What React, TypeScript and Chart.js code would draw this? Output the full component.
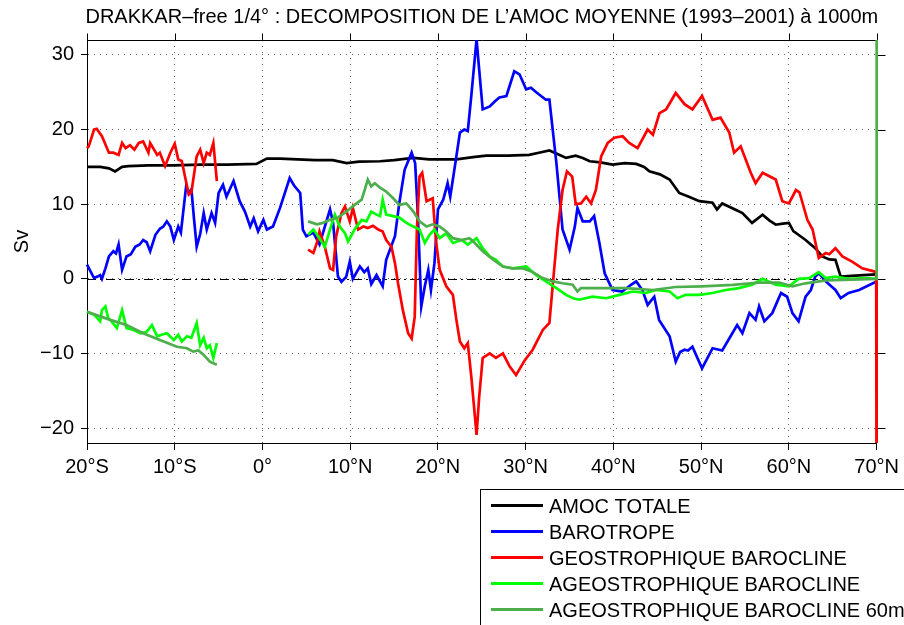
import React, { useEffect, useRef } from "react";
import { Chart, registerables } from "chart.js";
Chart.register(...registerables);

const TITLE = "DRAKKAR\u2013free 1/4\u00b0 : DECOMPOSITION DE L\u2019AMOC MOYENNE (1993\u20132001) \u00e0 1000m";
const Y_LABEL = "Sv";
const X_TICKS = [-20, -10, 0, 10, 20, 30, 40, 50, 60, 70];
const Y_TICKS = [-20, -10, 0, 10, 20, 30];
const X_RANGE = [-20, 70];
const Y_RANGE = [-22, 32];
const LABELS = [
  "AMOC TOTALE",
  "BAROTROPE",
  "GEOSTROPHIQUE BAROCLINE",
  "AGEOSTROPHIQUE BAROCLINE",
  "AGEOSTROPHIQUE BAROCLINE 60m",
];
const COLORS = ["#000000", "#0000ff", "#ff0000", "#00ff00", "#4caf4c"];

// [latitude, Sv]
const AMOC: [number, number][] = [
  [-20, 15.0], [-18.5, 15.0], [-17.5, 14.8], [-16.8, 14.4], [-16, 15.0], [-15.3, 15.1], [-13, 15.2],
  [-10.2, 15.2], [-7, 15.3], [-4, 15.3], [-0.7, 15.4], [0.5, 16.1], [2, 16.1], [4, 16.0], [6, 15.9],
  [8, 15.9], [9.6, 15.5], [11, 15.7], [13.4, 15.75], [15, 15.9], [17.2, 16.2], [19, 16.0], [22.1, 16.0],
  [24, 16.3], [25.5, 16.5], [28, 16.5], [30.4, 16.6], [31.5, 16.9], [32.7, 17.2], [33.5, 16.8],
  [34.6, 16.2], [35.7, 16.5], [36.5, 16.2], [37.3, 15.75], [38.5, 15.6], [39.9, 15.3], [41.3, 15.5],
  [42.6, 15.4], [43.5, 15.0], [44.1, 14.4], [45.3, 14.0], [46.4, 13.3], [47.5, 11.5], [48.6, 11.0],
  [49.8, 10.4], [50.5, 10.3], [51.3, 10.2], [51.8, 9.3], [52.4, 10.1], [53.5, 9.5], [54.7, 8.8],
  [55.8, 7.5], [57, 8.6], [57.8, 7.8], [58.5, 7.25], [59.3, 7.4], [60, 7.5], [60.5, 6.4], [61.2, 5.8],
  [61.9, 5.2], [63, 4.1], [63.8, 3.0], [64.6, 2.6], [65.3, 2.55], [65.9, 0.3], [68, 0.45], [70, 0.6],
];

const BARO: [number, number][] = [
  [-20, 1.9], [-19.2, 0.1], [-18.8, 0.3], [-18.5, 0.5], [-18.3, 0.0], [-17.9, 1.4], [-17.5, 3.0],
  [-17.0, 3.7], [-16.7, 3.4], [-16.4, 4.6], [-16.0, 1.2], [-15.5, 3.0], [-15.0, 3.3], [-14.5, 4.3],
  [-14.0, 4.6], [-13.6, 5.2], [-13.2, 4.9], [-12.8, 3.7], [-12.2, 5.9], [-11.7, 6.7], [-11.3, 7.0],
  [-10.9, 7.7], [-10.5, 7.0], [-10.1, 5.2], [-9.6, 7.0], [-9.3, 6.2], [-9.0, 9.3], [-8.7, 12.4],
  [-8.4, 11.5], [-8.1, 12.0], [-7.8, 8.0], [-7.5, 4.3], [-7.1, 6.0], [-6.7, 8.8], [-6.35, 6.6],
  [-5.8, 8.8], [-5.4, 7.5], [-5.0, 11.5], [-4.5, 12.6], [-4.1, 11.0], [-3.3, 13.1], [-2.6, 10.4],
  [-2.0, 9.0], [-1.4, 7.0], [-1.0, 8.1], [-0.5, 6.35], [0.1, 7.9], [0.5, 6.6], [1.2, 7.0], [2.0, 9.5],
  [3.1, 13.5], [3.6, 12.5], [4.3, 11.5], [4.6, 6.6], [5.0, 5.7], [5.8, 6.2], [6.5, 4.6], [7.7, 9.3],
  [8.05, 7.5], [8.6, 0.3], [9.0, -0.4], [9.55, 0.3], [9.95, 2.3], [10.3, 0.0], [11.1, 1.65],
  [11.6, 0.9], [12.0, 1.4], [12.4, -0.7], [13.0, 0.5], [13.7, -1.0], [14.1, 2.55], [15.1, 5.7],
  [15.6, 10.2], [16.2, 14.6], [17.0, 16.9], [17.4, 15.5], [17.7, 8.8], [18.1, -3.7], [18.5, -1.0],
  [18.9, 1.2], [19.2, -1.5], [19.6, 2.1], [20.0, 9.3], [20.6, 10.6], [21.1, 12.8], [21.4, 11.0],
  [21.7, 13.3], [22.1, 16.4], [22.5, 19.6], [23.0, 20.0], [23.4, 19.8], [23.8, 24.5], [24.4, 32.1],
  [24.7, 28], [25.1, 22.7], [25.9, 23.1], [26.5, 23.8], [27.0, 24.3], [27.8, 24.5], [28.7, 27.8],
  [29.3, 27.4], [30.05, 25.4], [30.6, 25.6], [31.2, 25.0], [32.3, 24.0], [32.7, 24.0], [33.5, 15.5],
  [34.2, 6.6], [35.0, 3.9], [35.6, 7.0], [35.9, 9.5], [36.5, 7.7], [37.3, 7.7], [37.8, 8.4],
  [38.4, 4.8], [39.0, 0.75], [39.9, -1.5], [41.0, -1.7], [42.0, -0.8], [42.6, -0.35], [43.3, -1.5],
  [43.9, -3.5], [44.65, -2.4], [45.2, -5.5], [46.4, -7.7], [47.1, -11.1], [47.6, -9.8], [48.1, -9.5],
  [48.5, -9.6], [49.0, -9.1], [50.1, -12.0], [51.3, -9.3], [52.4, -9.6], [53.2, -8.0], [54.1, -6.2],
  [54.7, -7.3], [55.5, -4.6], [56.2, -5.5], [56.6, -3.7], [57.2, -5.7], [58.1, -4.6], [59.1, -1.9],
  [59.8, -2.4], [60.4, -4.6], [61.1, -5.7], [61.9, -2.4], [62.5, -1.5], [63.0, 0.3], [63.4, 0.75],
  [64.2, -0.35], [65.3, -1.5], [65.9, -2.6], [66.8, -1.9], [68, -1.5], [69.8, -0.45], [70, -0.4],
];

const GEO_S: [number, number][] = [
  [-20, 17.5], [-19.8, 17.75], [-19.2, 20.0], [-18.9, 20.1], [-18.3, 19.1], [-17.5, 16.9], [-17.0, 16.9],
  [-16.4, 16.6], [-16.0, 18.2], [-15.6, 17.5], [-15.1, 17.9], [-14.6, 17.3], [-14.1, 18.2], [-13.6, 18.4],
  [-13.0, 16.9], [-12.8, 18.2], [-12.0, 16.6], [-11.7, 16.9], [-11.1, 15.1], [-10.5, 16.9], [-10.0, 18.1],
  [-9.6, 16.0], [-9.2, 15.8], [-8.4, 11.3], [-8.1, 11.6], [-7.5, 16.4], [-7.1, 17.3], [-6.7, 15.5],
  [-6.35, 16.9], [-6.0, 16.6], [-5.6, 18.2], [-5.2, 13.1],
];
const GEO_N: [number, number][] = [
  [5.2, 3.9], [5.8, 3.45], [6.2, 4.8], [6.5, 6.35], [7.1, 4.3], [7.7, 1.4], [8.05, 1.2], [8.4, 5.7],
  [9.0, 8.8], [9.4, 9.7], [9.95, 7.7], [10.3, 9.5], [10.9, 6.6], [11.5, 7.0], [12.0, 6.8], [12.6, 7.1],
  [13.2, 6.6], [13.7, 6.35], [14.1, 5.2], [14.7, 4.3], [15.1, 2.1], [15.45, -0.6], [16.0, -4.2],
  [16.6, -7.3], [17.0, -8.0], [17.35, -5.1], [17.6, 6.6], [17.9, 13.7], [18.2, 14.2], [18.7, 10.4],
  [19.05, 10.6], [19.4, 10.8], [19.8, 4.8], [20.2, 1.2], [20.95, -1.0], [21.7, -2.15], [22.1, -5.5],
  [22.5, -8.4], [23.0, -9.3], [23.4, -8.6], [23.8, -13.1], [24.4, -20.9], [24.7, -15.8], [25.1, -10.6],
  [25.9, -10.0], [26.6, -10.6], [27.4, -10.0], [28.2, -11.8], [28.9, -12.9], [29.9, -10.9], [30.8, -9.5],
  [31.95, -6.85], [32.7, -5.9], [33.1, -0.6], [33.65, 6.6], [34.2, 11.9], [34.7, 14.4], [35.3, 13.7],
  [35.7, 10.0], [36.3, 10.1], [36.9, 11.0], [37.45, 10.1], [38.0, 11.9], [38.6, 16.4], [39.35, 18.2],
  [40.1, 18.9], [41.05, 19.1], [41.8, 18.2], [42.75, 17.5], [43.9, 20.0], [44.5, 19.3], [45.25, 22.2],
  [46.0, 22.7], [47.1, 24.9], [48.1, 23.4], [49.0, 22.7], [50.1, 24.5], [51.3, 21.3], [52.2, 21.6],
  [53.2, 19.6], [53.75, 16.9], [54.5, 17.75], [55.65, 14.2], [56.2, 12.8], [57.0, 14.2], [58.5, 13.3],
  [59.25, 10.4], [60.0, 10.1], [60.8, 11.9], [61.2, 11.6], [62.1, 7.9], [62.7, 6.6], [63.4, 2.8],
  [64.2, 3.45], [64.6, 3.3], [65.3, 4.1], [66.1, 3.0], [67.2, 2.3], [68.35, 1.4], [69.7, 1.0],
  [69.95, 0.9], [70, -40],
];

const AGEO_S: [number, number][] = [
  [-20, -4.4], [-19.2, -4.8], [-18.5, -5.7], [-18.3, -4.2], [-17.9, -3.7], [-17.6, -5.2], [-17.2, -5.7],
  [-16.6, -6.6], [-16.0, -4.2], [-15.5, -6.6], [-14.7, -6.85], [-13.9, -7.3], [-13.2, -7.1], [-12.6, -6.2],
  [-12.0, -7.7], [-11.5, -7.5], [-10.9, -7.3], [-10.1, -8.2], [-9.6, -7.5], [-9.2, -8.4], [-8.6, -7.7],
  [-8.1, -7.9], [-7.5, -5.95], [-7.1, -8.9], [-6.7, -7.9], [-6.35, -9.3], [-6.0, -8.9], [-5.6, -10.6],
  [-5.2, -8.6],
];
const AGEO_N: [number, number][] = [
  [5.2, 5.9], [5.8, 6.6], [6.35, 5.7], [7.1, 4.3], [7.7, 6.6], [8.25, 8.6], [8.8, 7.0], [9.4, 6.1],
  [9.75, 5.0], [10.5, 6.6], [11.3, 7.9], [11.85, 7.7], [12.4, 9.0], [13.0, 8.6], [13.4, 8.4], [13.7, 10.6],
  [14.1, 8.6], [14.9, 8.4], [15.6, 8.2], [16.4, 7.5], [17.2, 7.0], [17.9, 6.6], [18.5, 4.8], [19.05, 5.9],
  [19.6, 6.6], [20.2, 5.45], [20.95, 6.1], [21.7, 4.8], [22.7, 5.2], [23.4, 4.6], [24.4, 5.45], [25.1, 4.1],
  [25.9, 3.0], [26.6, 2.55], [27.4, 1.65], [28.5, 1.4], [30.05, 1.65], [31.2, 0.5], [32.3, -0.35],
  [33.5, -1.25], [34.6, -2.15], [35.4, -2.6], [36.1, -2.8], [37.6, -2.4], [39.15, -2.6], [40.7, -2.15],
  [42.2, -1.7], [43.7, -1.9], [44.85, -1.5], [46.4, -1.7], [47.3, -2.6], [48.25, -2.15], [49.8, -2.15],
  [51.3, -1.9], [52.8, -1.5], [54.3, -1.25], [55.8, -0.8], [57.0, 0.0], [58.5, -0.8], [60.0, -1.0],
  [61.1, 0.0], [62.3, 0.1], [63.4, 0.9], [64.2, 0.1], [65.3, 0.3], [66.8, 0.0], [68.7, 0.1], [70, 0.0],
];

const AGEO60_S: [number, number][] = [
  [-20, -4.4], [-17.35, -5.5], [-15.5, -6.2], [-13.6, -7.3], [-11.7, -8.2], [-9.75, -9.1], [-8.6, -9.3],
  [-7.9, -9.75], [-7.3, -9.6], [-6.7, -10.2], [-6.0, -11.1], [-5.2, -11.5],
];
const AGEO60_N: [number, number][] = [
  [5.2, 7.7], [6.2, 7.3], [6.9, 7.5], [7.7, 7.9], [8.6, 8.2], [9.55, 9.0], [10.5, 9.9], [11.3, 10.6],
  [11.65, 11.9], [12.0, 13.3], [12.4, 12.4], [12.8, 12.8], [13.4, 12.2], [14.1, 11.7], [14.9, 10.8],
  [15.6, 9.9], [16.4, 10.1], [17.2, 9.0], [17.9, 7.7], [18.7, 7.0], [19.4, 7.3], [20.2, 7.0], [20.95, 6.35],
  [21.7, 5.45], [22.7, 5.2], [23.6, 5.45], [24.2, 4.8], [25.1, 3.7], [26.3, 2.55], [27.4, 1.65], [28.5, 1.4],
  [29.7, 1.4], [30.8, 0.9], [31.95, 0.1], [33.1, -0.35], [34.2, -0.6], [35.35, -0.8], [35.9, -1.7],
  [36.3, -1.25], [38.4, -1.25], [41.4, -1.25], [44.5, -1.5], [47.1, -1.1], [50.1, -1.0], [53.6, -0.8],
  [56.6, -0.5], [58.9, -0.5], [60.4, -1.0], [61.9, -0.6], [64.2, -0.2], [67.2, -0.1], [69.95, 0.0],
  [70, 45],
];

const FONT = "'Liberation Sans', Arial, Helvetica, sans-serif";

function pts(...segs: [number, number][][]) {
  const out: { x: number; y: number | null }[] = [];
  segs.forEach((s, i) => {
    if (i > 0) out.push({ x: (out[out.length - 1].x + s[0][0]) / 2, y: null });
    s.forEach(([x, y]) => out.push({ x, y }));
  });
  return out;
}

function latLabel(v: number) {
  if (v === 0) return "0\u00b0";
  return Math.abs(v) + "\u00b0" + (v < 0 ? "S" : "N");
}

const decorPlugin = {
  id: "decor",
  beforeDatasetsDraw(chart: any) {
    const { ctx, chartArea: a, scales } = chart;
    const x = scales.x, y = scales.y;
    ctx.save();
    // zero line (dash-dot)
    const y0 = Math.round(y.getPixelForValue(0)) + 0.5;
    ctx.strokeStyle = "#000";
    ctx.lineWidth = 1;
    ctx.setLineDash([9, 4, 2, 4]);
    ctx.beginPath();
    ctx.moveTo(a.left, y0);
    ctx.lineTo(a.right, y0);
    ctx.stroke();
    ctx.setLineDash([]);
    // top & right frame with outward ticks
    const top = Math.round(a.top) + 0.5;
    const right = Math.round(a.right) + 0.5;
    ctx.beginPath();
    ctx.moveTo(a.left, top);
    ctx.lineTo(right, top);
    ctx.lineTo(right, a.bottom);
    X_TICKS.forEach((v) => {
      const px = Math.round(x.getPixelForValue(v)) + 0.5;
      ctx.moveTo(px, top);
      ctx.lineTo(px, top - 7);
    });
    Y_TICKS.forEach((v) => {
      const py = Math.round(y.getPixelForValue(v)) + 0.5;
      ctx.moveTo(right, py);
      ctx.lineTo(right + 8, py);
    });
    ctx.stroke();
    ctx.restore();
  },
  afterDraw(chart: any) {
    const { ctx, chartArea: a } = chart;
    ctx.save();
    ctx.fillStyle = "#000";
    ctx.font = `20px ${FONT}`;
    // title
    ctx.textAlign = "center";
    ctx.textBaseline = "alphabetic";
    ctx.fillText(TITLE, (a.left + a.right) / 2, 23);
    // y label
    ctx.save();
    ctx.translate(27.5, (a.top + a.bottom) / 2);
    ctx.rotate(-Math.PI / 2);
    ctx.fillText(Y_LABEL, 0, 0);
    ctx.restore();
    // legend
    const lx = 480.5, ly = 489.5;
    ctx.strokeStyle = "#000";
    ctx.lineWidth = 1;
    ctx.fillStyle = "#fff";
    ctx.fillRect(lx, ly, 500, 200);
    ctx.strokeRect(lx, ly, 500, 200);
    ctx.textAlign = "left";
    chart.data.datasets.forEach((ds: any, i: number) => {
      const cy = 505.5 + i * 26;
      ctx.strokeStyle = ds.borderColor;
      ctx.lineWidth = 3;
      ctx.beginPath();
      ctx.moveTo(491, cy);
      ctx.lineTo(543, cy);
      ctx.stroke();
      ctx.fillStyle = "#000";
      ctx.fillText(ds.label, 549, cy + 7.2);
    });
    ctx.restore();
  },
};

export default function App() {
  const ref = useRef<HTMLCanvasElement | null>(null);
  useEffect(() => {
    if (!ref.current) return;
    const series = [pts(AMOC), pts(BARO), pts(GEO_S, GEO_N), pts(AGEO_S, AGEO_N), pts(AGEO60_S, AGEO60_N)];
    const chart = new Chart(ref.current, {
      type: "line",
      data: {
        datasets: series.map((d, i) => ({
          label: LABELS[i],
          data: d,
          borderColor: COLORS[i],
          backgroundColor: COLORS[i],
          borderWidth: 2.7,
          pointRadius: 0,
          tension: 0,
          spanGaps: false,
          order: 5 - i,
          clip: { left: 2, right: 3, top: 0, bottom: 0 },
        })),
      },
      options: {
        responsive: false,
        animation: false,
        events: [],
        layout: { padding: { top: 40, right: 25, left: 0, bottom: 0 } },
        plugins: { legend: { display: false }, tooltip: { enabled: false }, title: { display: false } },
        scales: {
          x: {
            type: "linear",
            min: X_RANGE[0],
            max: X_RANGE[1],
            afterBuildTicks: (s: any) => { s.ticks = X_TICKS.map((v) => ({ value: v })); },
            afterFit: (s: any) => { s.height = 182; },
            grid: {
              color: "rgba(0,0,0,0.6)",
              lineWidth: 1,
              tickLength: 7,
              tickColor: "#000",
              tickBorderDash: [],
            },
            border: { display: true, color: "#000", width: 1, dash: [1, 5] },
            ticks: {
              callback: (v: any) => latLabel(Number(v)),
              color: "#000",
              font: { family: FONT, size: 20 },
              padding: 5,
              maxRotation: 0,
              autoSkip: false,
            },
          },
          y: {
            type: "linear",
            min: Y_RANGE[0],
            max: Y_RANGE[1],
            afterBuildTicks: (s: any) => { s.ticks = Y_TICKS.map((v) => ({ value: v })); },
            afterFit: (s: any) => { s.width = 87; },
            grid: {
              color: "rgba(0,0,0,0.6)",
              lineWidth: 1,
              tickLength: 6,
              tickColor: "#000",
              tickBorderDash: [],
            },
            border: { display: true, color: "#000", width: 1, dash: [1, 5] },
            ticks: {
              callback: (v: any) => (Number(v) < 0 ? "\u2212" + Math.abs(Number(v)) : String(v)),
              color: "#000",
              font: { family: FONT, size: 20 },
              padding: 7,
              autoSkip: false,
            },
          },
        },
      },
      plugins: [decorPlugin],
    });
    return () => chart.destroy();
  }, []);
  return (
    <div style={{ position: "absolute", left: 0, top: 0, width: 904, height: 625, background: "#fff" }}>
      <canvas ref={ref} width={904} height={625} style={{ display: "block", width: 904, height: 625 }} />
    </div>
  );
}
